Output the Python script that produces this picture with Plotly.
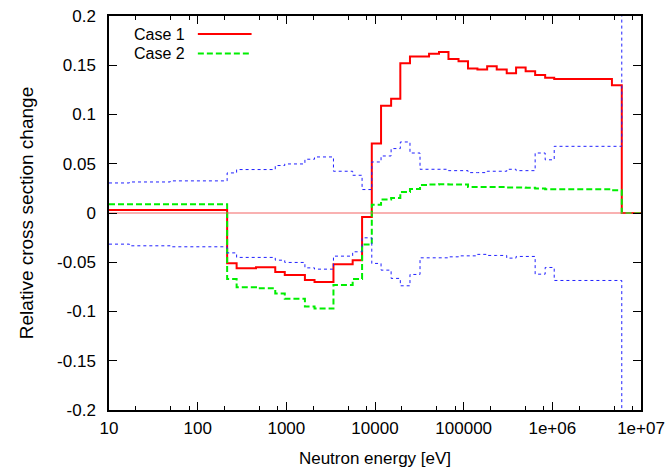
import plotly.graph_objects as go

# Group boundaries in eV (35 groups, 10 eV to 10 MeV)
energy_edges = [10, 17, 49, 215, 275, 455, 750, 960, 1620, 2080, 3400, 5600,
                7150, 9200, 11700, 15200, 19300, 24800, 32200, 40700, 52700,
                67400, 87500, 112000, 143000, 184000, 236000, 306000, 390000,
                500000, 640000, 830000, 1.05e6, 4.7e6, 6.07e6, 1e7]

# Relative change per group
case1 = [0.003, 0.003, 0.003, -0.051, -0.056, -0.055, -0.060, -0.063, -0.068,
         -0.070, -0.052, -0.048, -0.004, 0.0705, 0.109, 0.116, 0.152, 0.159,
         0.159, 0.1617, 0.1634, 0.1563, 0.154, 0.1468, 0.1458, 0.1489, 0.1458,
         0.1418, 0.1478, 0.1438, 0.140, 0.1374, 0.136, 0.1296, 0.0]

case2 = [0.009, 0.009, 0.009, -0.067, -0.0755, -0.0765, -0.0817, -0.087,
         -0.095, -0.097, -0.073, -0.067, -0.032, 0.0085, 0.0137, 0.0153,
         0.0214, 0.0244, 0.0285, 0.029, 0.0292, 0.029, 0.0289, 0.0265, 0.0265,
         0.0265, 0.0265, 0.026, 0.026, 0.0256, 0.0248, 0.0241, 0.0241, 0.023,
         0.0]

# Uncertainty band (upper / lower)
unc_upper = [0.0305, 0.0315, 0.0326, 0.0407, 0.0441, 0.0441, 0.0482, 0.0498,
             0.0546, 0.0569, 0.0424, 0.0383, 0.0238, 0.0518, 0.0579, 0.0654,
             0.0721, 0.0609, 0.0444, 0.0444, 0.0444, 0.043, 0.043, 0.041,
             0.041, 0.0424, 0.0424, 0.0444, 0.043, 0.043, 0.0609, 0.054,
             0.0677, 0.0677, 1.0]

unc_lower = [-0.0316, -0.0333, -0.0343, -0.0405, -0.0451, -0.0451, -0.0479,
             -0.0502, -0.0557, -0.057, -0.0438, -0.0394, -0.0252, -0.0512,
             -0.058, -0.0664, -0.0739, -0.0624, -0.0455, -0.0455, -0.0455,
             -0.0445, -0.0435, -0.0435, -0.042, -0.0431, -0.0431, -0.0458,
             -0.0441, -0.0441, -0.0621, -0.0553, -0.0685, -0.0685, -1.0]

x_tick_vals = [10, 100, 1000, 10000, 100000, 1e6, 1e7]
x_tick_text = ["10", "100", "1000", "10000", "100000", "1e+06", "1e+07"]
x_minor_vals = [m * 10 ** d for d in range(1, 7) for m in (2, 5, 8)]
y_tick_vals = [-0.2, -0.15, -0.1, -0.05, 0, 0.05, 0.1, 0.15, 0.2]
y_tick_text = ["-0.2", "-0.15", "-0.1", "-0.05", "0", "0.05", "0.1", "0.15", "0.2"]

FONT = "Liberation Sans, Arial, sans-serif"


def steps(values):
    # histogram-style: one point per left edge, closing point at the last edge
    return energy_edges, list(values) + [values[-1]]


fig = go.Figure()

# zero reference line (on the overlay axis that carries the minor ticks)
fig.add_trace(go.Scatter(x=[energy_edges[0], energy_edges[-1]], y=[0, 0],
                         mode="lines", xaxis="x2", yaxis="y",
                         line=dict(color="rgba(240,80,80,0.6)", width=1.5),
                         showlegend=False, hoverinfo="skip"))

sx, sy = steps(case1)
fig.add_trace(go.Scatter(x=sx, y=sy, mode="lines", name="Case 1",
                         line=dict(color="#ff0000", width=2, shape="hv"),
                         showlegend=False))
sx, sy = steps(case2)
fig.add_trace(go.Scatter(x=sx, y=sy, mode="lines", name="Case 2",
                         line=dict(color="#00ee00", width=2, shape="hv",
                                   dash="6px,3px"),
                         showlegend=False))
for band in (unc_upper, unc_lower):
    sx, sy = steps(band)
    fig.add_trace(go.Scatter(x=sx, y=sy, mode="lines",
                             line=dict(color="#2020ff", width=1, shape="hv",
                                       dash="3px,3px"),
                             showlegend=False, hoverinfo="skip"))

axis_common = dict(showgrid=False, zeroline=False, showline=True,
                   linecolor="black", linewidth=1.5, ticks="inside",
                   tickcolor="black", tickwidth=1, mirror="ticks",
                   automargin=False)

fig.update_layout(
    width=668, height=468,
    margin=dict(l=109, r=27, t=16, b=58),
    paper_bgcolor="white", plot_bgcolor="white",
    font=dict(family=FONT, size=17, color="black"),
    xaxis=dict(type="log", range=[1, 7], tickvals=x_tick_vals,
               ticktext=x_tick_text, ticklen=8, ticklabelstandoff=2,
               title=dict(text="Neutron energy [eV]", standoff=17,
                          font=dict(size=17)),
               **axis_common),
    xaxis2=dict(type="log", range=[1, 7], overlaying="x", anchor="y",
                side="bottom", tickvals=x_minor_vals, ticklen=4,
                showticklabels=False, **axis_common),
    yaxis=dict(range=[-0.2, 0.2], tickvals=y_tick_vals, ticktext=y_tick_text,
               ticklen=8, ticklabelstandoff=8,
               title=dict(text="Relative cross section change", standoff=18,
                          font=dict(size=19)),
               **axis_common),
)

# key in the upper-left corner: label followed by a line sample
legend_rows = [("Case 1", "#ff0000", "solid", 0.954),
               ("Case 2", "#00ee00", "6px,3px", 0.905)]
for label, color, dash, ypos in legend_rows:
    fig.add_annotation(x=0.145, y=ypos, xref="paper", yref="paper",
                       text=label, showarrow=False, xanchor="right",
                       yanchor="middle", borderpad=0,
                       font=dict(size=16, family=FONT))
    fig.add_shape(type="line", xref="paper", yref="paper",
                  x0=0.167, x1=0.268, y0=ypos, y1=ypos,
                  line=dict(color=color, width=2, dash=dash))

fig.write_html("out.html")
